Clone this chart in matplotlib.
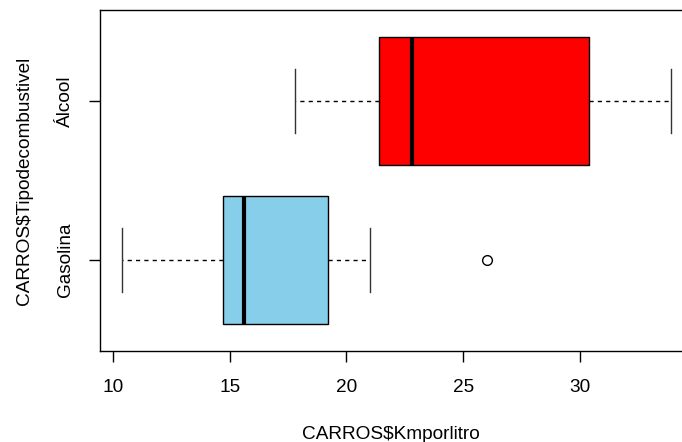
import matplotlib
matplotlib.use('Agg')
import matplotlib.pyplot as plt

plt.rcParams['font.family'] = ['Liberation Sans', 'DejaVu Sans']

grupos = ['Gasolina', 'Álcool']
cores = ['skyblue', 'red']
minimo = [10.4, 17.8]
q1 = [14.7, 21.4]
mediana = [15.6, 22.8]
q3 = [19.2, 30.4]
maximo = [21.0, 33.9]
outliers = [[26.0], []]

stats = []
for i in range(len(grupos)):
    stats.append({'label': grupos[i], 'whislo': minimo[i], 'q1': q1[i], 'med': mediana[i],
                  'q3': q3[i], 'whishi': maximo[i], 'fliers': outliers[i]})

fig = plt.figure(figsize=(6.82, 4.42), dpi=100)
ax = fig.add_axes([100/682, 91/442, 582/682, 341/442])

bp = ax.bxp(stats, positions=[1, 2], widths=0.8, capwidths=0.4,
            orientation='horizontal', patch_artist=True,
            boxprops=dict(edgecolor='black', linewidth=1),
            medianprops=dict(color='black', linewidth=3, solid_capstyle='butt'),
            whiskerprops=dict(color='black', linestyle=(0, (3, 3)), linewidth=1),
            capprops=dict(color='#333333', linewidth=1),
            flierprops=dict(marker='o', markerfacecolor='none', markeredgecolor='black',
                            markersize=7, markeredgewidth=1))
for patch, c in zip(bp['boxes'], cores):
    patch.set_facecolor(c)

ax.set_xlim(9.443, 34.37)
ax.set_ylim(0.428, 2.572)
ax.set_xticks([10, 15, 20, 25, 30])
ax.set_yticks([1, 2])
ax.set_yticklabels(grupos, rotation=90, va='center')
ax.tick_params(labelsize=13.7, length=8, width=1)
ax.tick_params(axis='x', pad=12)
ax.tick_params(axis='y', pad=11)
ax.spines['right'].set_visible(False)
for s in ['left', 'bottom', 'top']:
    ax.spines[s].set_linewidth(1)
ax.set_xlabel('CARROS$Kmporlitro', fontsize=13.7, labelpad=22)
ax.set_ylabel('CARROS$Tipodecombustivel', fontsize=13.7, labelpad=17)

fig.savefig('out.png', dpi=100)
